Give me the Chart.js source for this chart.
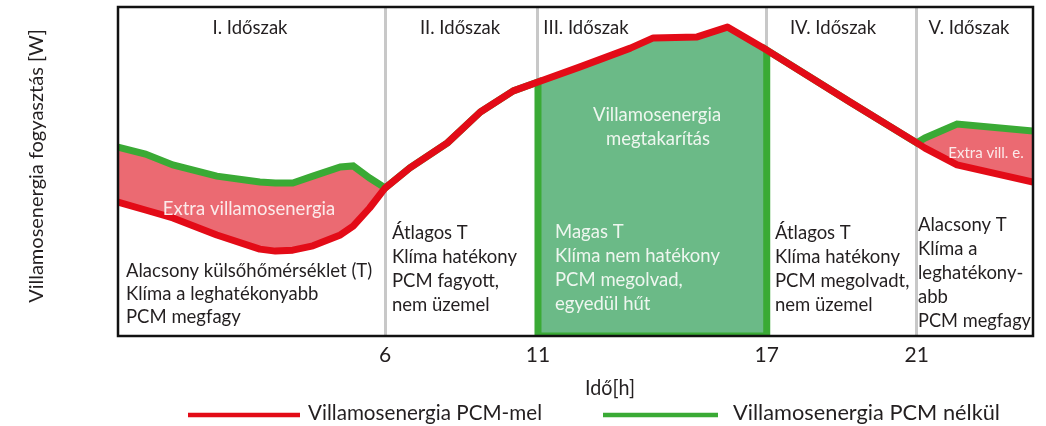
<!DOCTYPE html>
<html><head><meta charset="utf-8">
<script src="https://cdn.jsdelivr.net/npm/chart.js@4"></script>
<style>html,body{margin:0;padding:0;background:#fff}#wrap{width:1046px;height:426px}</style>
</head><body><div id="wrap"><canvas id="c" width="1046" height="426"></canvas></div>
<script>
// Schematic horizontal position (0..100 across the plot) of each sampled point
const xPos = [0, 3.0, 6.0, 10.8, 15.5, 17.2, 19.1, 21.3, 24.3, 25.7, 27.5, 29.2, 31.9, 36.0, 39.6, 43.2, 45.9, 45.9, 50.5, 56.0, 58.5, 63.3, 66.6, 70.9, 70.9, 80.0, 87.3, 88.2, 91.7, 100];
// Consumption with PCM (relative units)
const withPCM = [40.7, 38.3, 35.9, 30.7, 26.4, 25.8, 26.1, 27.4, 30.7, 33.4, 38.9, 45.0, 51.1, 58.7, 68.1, 74.5, 77.2, 77.2, 81.8, 87.5, 90.6, 90.9, 93.9, 86.9, 86.9, 71.1, 58.7, 57.1, 52.0, 46.8];
// Consumption without PCM (relative units)
const withoutPCM = [57.4, 55.3, 52.0, 48.6, 46.8, 46.5, 46.5, 48.6, 51.4, 51.7, 48.0, 45.0, 51.1, 58.7, 68.1, 74.5, 77.2, 0, 0, 0, 0, 0, 0, 0, 86.9, 71.1, 58.7, 60.2, 64.4, 62.3];
const tickPos = [29.2, 45.9, 70.9, 87.3];
const tickLabels = ['6', '11', '17', '21'];
const seriesNames = ['Villamosenergia PCM-mel', 'Villamosenergia PCM nélkül'];
const periodTitles = ['I. Időszak', 'II. Időszak', 'III. Időszak', 'IV. Időszak', 'V. Időszak'];
const periodNotes = [
  ['Alacsony külsőhőmérséklet (T)', 'Klíma a leghatékonyabb', 'PCM megfagy'],
  ['Átlagos T', 'Klíma hatékony', 'PCM fagyott,', 'nem üzemel'],
  ['Magas T', 'Klíma nem hatékony', 'PCM megolvad,', 'egyedül hűt'],
  ['Átlagos T', 'Klíma hatékony', 'PCM megolvadt,', 'nem üzemel'],
  ['Alacsony T', 'Klíma a', 'leghatékony-', 'abb', 'PCM megfagy']
];
const areaLabels = ['Extra villamosenergia', 'Extra vill. e.', 'Villamosenergia', 'megtakarítás'];
const xTitle = 'Idő[h]';
const yTitle = 'Villamosenergia fogyasztás [W]';

const FONT = 'Lato';
const TXT = '#231f20';
const RED = '#e30b17';
const GREEN = '#3aaa35';

const pts = ys => xPos.map((x, i) => ({x: x, y: ys[i]}));

const overlay = {
  id: 'overlay',
  afterDatasetsDraw(chart) {
    const {ctx, chartArea: a} = chart;
    ctx.save();
    ctx.strokeStyle = '#111';
    ctx.lineWidth = 2.5;
    ctx.strokeRect(a.left, a.top, a.right - a.left, a.bottom - a.top);
    ctx.restore();
  },
  afterDraw(chart) {
    const {ctx, chartArea: a} = chart;
    ctx.save();
    ctx.textBaseline = 'middle';
    ctx.fillStyle = TXT;
    ctx.font = '18.5px ' + FONT;
    // period titles
    const tCenters = [250, 460, 586, 833, 969];
    periodTitles.forEach((t, i) => {
      ctx.textAlign = 'center';
      ctx.fillText(t, tCenters[i], a.top + 21);
    });
    // period notes
    const nLeft = [126, 392, 555, 775, 918];
    const nTop = [271, 233, 232, 233, 225];
    const nGap = [23, 24, 24, 24, 24];
    periodNotes.forEach((lines, i) => {
      ctx.textAlign = 'left';
      ctx.fillStyle = i === 2 ? '#eef6ef' : TXT;
      lines.forEach((l, j) => ctx.fillText(l, nLeft[i], nTop[i] + j * nGap[i], i === 4 ? 113 : undefined));
    });
    // area labels
    ctx.textAlign = 'center';
    ctx.fillStyle = '#fbeaea';
    ctx.fillText(areaLabels[0], 249, 209);
    ctx.font = '15px ' + FONT;
    ctx.fillText(areaLabels[1], 986, 153);
    ctx.font = '18.5px ' + FONT;
    ctx.fillStyle = '#eef6ef';
    ctx.fillText(areaLabels[2], 657, 115);
    ctx.fillText(areaLabels[3], 658, 139);
    // x axis title
    ctx.fillStyle = TXT;
    ctx.font = '21px ' + FONT;
    ctx.fillText(xTitle, 610, 388, 50);
    // y axis title
    ctx.save();
    ctx.translate(37, 166);
    ctx.rotate(-Math.PI / 2);
    ctx.font = '20px ' + FONT;
    ctx.fillText(yTitle, 0, 0, 292);
    ctx.restore();
    // legend
    const ds = chart.data.datasets;
    const items = [[188, 300, 308, 234, ds[0]], [603, 718, 733, 267, ds[1]]];
    ctx.font = '22px ' + FONT;
    ctx.textAlign = 'left';
    items.forEach(([x0, x1, tx, tw, d]) => {
      ctx.strokeStyle = d.borderColor;
      ctx.lineWidth = 4.5;
      ctx.beginPath();
      ctx.moveTo(x0, 415); ctx.lineTo(x1, 415);
      ctx.stroke();
      ctx.fillStyle = TXT;
      ctx.fillText(d.label, tx, 413, tw);
    });
    ctx.restore();
  }
};

new Chart(document.getElementById('c'), {
  type: 'line',
  data: {
    datasets: [
      {label: seriesNames[0], data: pts(withPCM), borderColor: RED, borderWidth: 7,
       pointRadius: 0, tension: 0, fill: false, borderJoinStyle: 'round', borderCapStyle: 'round'},
      {label: seriesNames[1], data: pts(withoutPCM), borderColor: GREEN, borderWidth: 7,
       pointRadius: 0, tension: 0, borderJoinStyle: 'miter',
       fill: {target: 0, above: '#eb6a72', below: '#6bba87'}}
    ]
  },
  options: {
    responsive: false,
    animation: false,
    devicePixelRatio: 1,
    layout: {padding: {left: 118, right: 13, top: 7, bottom: 0}},
    plugins: {legend: {display: false}, tooltip: {enabled: false}},
    scales: {
      x: {
        type: 'linear', min: 0, max: 100,
        afterBuildTicks: s => { s.ticks = tickPos.map(v => ({value: v})); },
        afterFit: s => { s.height = 90; },
        grid: {color: '#c8c8c8', lineWidth: 3, drawTicks: false},
        border: {display: false},
        ticks: {
          autoSkip: false, maxRotation: 0, padding: 7,
          color: TXT, font: {family: FONT, size: 21},
          callback: v => tickLabels[tickPos.indexOf(v)]
        },
        title: {display: false}
      },
      y: {display: false, min: 0, max: 100}
    }
  },
  plugins: [overlay]
});
</script>
</body></html>
